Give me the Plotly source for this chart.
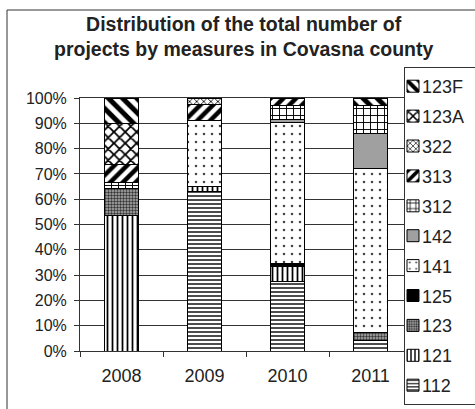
import plotly.graph_objects as go

years = ["2008", "2009", "2010", "2011"]

# share of projects (%) per measure, listed bottom-to-top of the stack
measures = ["112", "121", "123", "125", "141", "142", "312", "313", "322", "123A", "123F"]
m112 = [0.0, 63.0, 27.4, 4.0]
m121 = [53.4, 2.2, 5.9, 0.0]
m123 = [10.9, 0.0, 0.0, 3.5]
m125 = [0.0, 0.0, 1.4, 0.0]
m141 = [0.0, 25.8, 55.7, 64.5]
m142 = [0.0, 0.0, 1.0, 14.0]
m312 = [2.2, 0.0, 5.8, 11.0]
m313 = [7.4, 6.6, 2.8, 0.0]
m322 = [0.0, 2.4, 0.0, 0.0]
m123A = [16.1, 0.0, 0.0, 0.0]
m123F = [10.0, 0.0, 0.0, 3.0]
values = [m112, m121, m123, m125, m141, m142, m312, m313, m322, m123A, m123F]

# fill style for each measure: (shape, fg, bg, size, solidity)
styles = {
    "112": ("-", "black", "white", 4, 0.35),
    "121": ("|", "black", "white", 5, 0.35),
    "123": (".", "#333333", "#b0b0b0", 3, 0.5),
    "125": ("", "black", "black", 8, 0.3),
    "141": (".", "#444444", "white", 8, 0.08),
    "142": ("", "#a0a0a0", "#a0a0a0", 8, 0.3),
    "312": ("+", "black", "white", 7, 0.25),
    "313": ("/", "black", "white", 9, 0.5),
    "322": ("x", "black", "white", 5, 0.3),
    "123A": ("x", "black", "white", 8, 0.4),
    "123F": ("\\", "black", "white", 10, 0.5),
}

fig = go.Figure()
n = len(measures)
for i, (name, vals) in enumerate(zip(measures, values)):
    shape, fg, bg, size, sol = styles[name]
    marker = dict(color=bg, line=dict(color="black", width=1))
    if shape:
        marker["pattern"] = dict(shape=shape, fgcolor=fg, bgcolor=bg,
                                 size=size, solidity=sol, fillmode="replace")
    fig.add_trace(go.Bar(x=years, y=vals, name=name, legendgroup=name,
                         legendrank=n - i, marker=marker,
                         hoverinfo="x+y+name"))

font_family = "Liberation Sans, Arial, sans-serif"

fig.update_layout(
    width=475, height=409,
    margin=dict(l=80, r=63, t=98, b=58, autoexpand=False),
    barmode="stack",
    bargap=0.59,
    paper_bgcolor="white",
    plot_bgcolor="#c0c0c0",
    font=dict(family=font_family, color="#222222", size=16),
    xaxis=dict(
        type="category", showgrid=False,
        ticks="outside", tickson="boundaries", ticklen=5, tickcolor="#333333",
        showline=True, linecolor="#333333", linewidth=1, mirror=True,
        tickfont=dict(size=18), ticklabelstandoff=8,
    ),
    yaxis=dict(
        range=[0, 100], dtick=10, ticksuffix="%",
        showgrid=True, gridcolor="#333333", gridwidth=1,
        ticks="outside", ticklen=5, tickcolor="#333333",
        showline=True, linecolor="#333333", linewidth=1, mirror=True,
        tickfont=dict(size=16), zeroline=False, ticklabelstandoff=4,
    ),
    legend=dict(
        x=(404 - 80) / 332, xanchor="left",
        y=(351 - 67) / 253, yanchor="top",
        bgcolor="white", bordercolor="#333333", borderwidth=1,
        font=dict(size=18), traceorder="grouped", tracegroupgap=3.5,
        indentation=-15, maxheight=400,
    ),
    annotations=[dict(
        text="<b>Distribution of the total number of<br>projects by measures in Covasna county</b>",
        xref="paper", yref="paper", x=(243 - 80) / 332, y=(351 - 36) / 253,
        xanchor="center", yanchor="middle", showarrow=False,
        font=dict(size=19.5, family=font_family, color="#222222"),
    )],
    shapes=[dict(
        type="rect", xref="paper", yref="paper", layer="below",
        x0=(7 - 80) / 332, x1=1.6, y0=-0.6, y1=(351 - 10) / 253,
        line=dict(color="#333333", width=1), fillcolor="white",
    )],
)

# the legend box runs past the right edge of the chart; plotly keeps legends
# inside the figure, so place it after drawing and tighten the label gap
legend_js = """
var gd = document.getElementById('{plot_id}');
function placeLegend() {
  var lg = gd.querySelector('g.legend');
  if (!lg) return;
  var m = /translate\\(([-\\d.]+),\\s*([-\\d.]+)\\)/.exec(lg.getAttribute('transform') || '');
  var ty = m ? m[2] : 67;
  lg.setAttribute('transform', 'translate(404,' + ty + ')');
  gd.querySelectorAll('g.legend g.legendpoints').forEach(function (p) {
    p.setAttribute('transform', 'translate(3,0)');
  });
  gd.querySelectorAll('g.legend text.legendtext').forEach(function (t) {
    if (!t.getAttribute('data-x0')) t.setAttribute('data-x0', t.getAttribute('x'));
    t.setAttribute('x', parseFloat(t.getAttribute('data-x0')) - 8);
  });
}
placeLegend();
gd.on('plotly_afterplot', placeLegend);
"""

fig.write_html("out.html", post_script=legend_js)
